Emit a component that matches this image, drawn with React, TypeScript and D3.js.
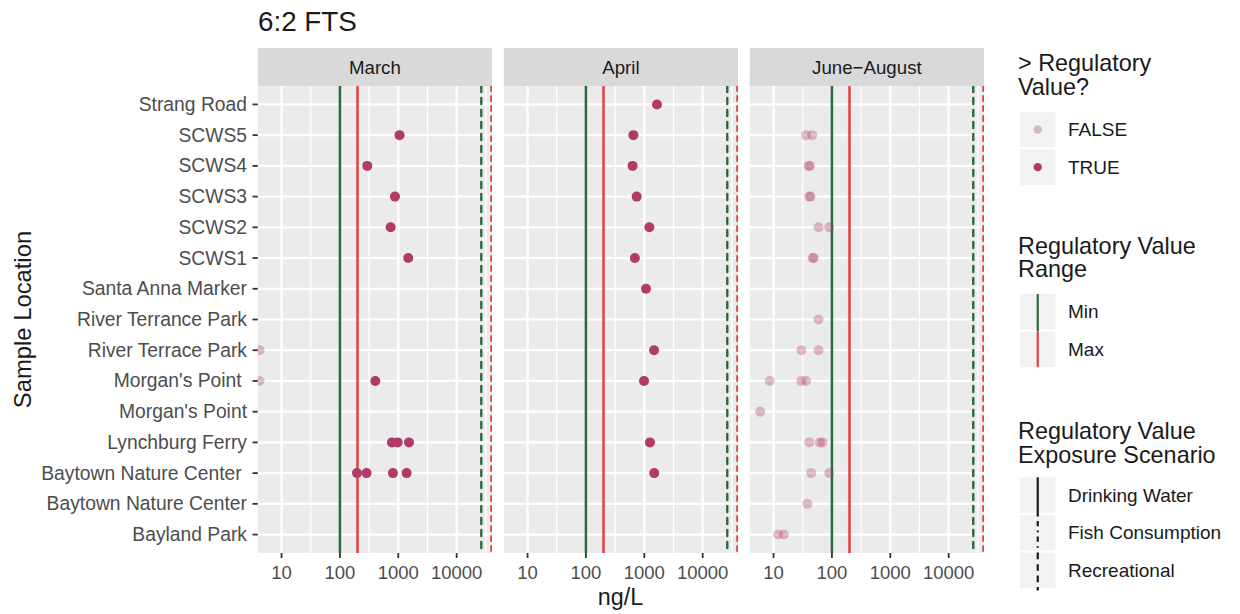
import React from "react";
import * as d3 from "d3";

// ---------- data ----------
const locations = [
  "Strang Road",
  "SCWS5",
  "SCWS4",
  "SCWS3",
  "SCWS2",
  "SCWS1",
  "Santa Anna Marker",
  "River Terrance Park",
  "River Terrace Park",
  "Morgan's Point ",
  "Morgan's Point",
  "Lynchburg Ferry",
  "Baytown Nature Center ",
  "Baytown Nature Center",
  "Bayland Park",
];

const months = ["March", "April", "June\u2212August"];

const marchLocs = [
  "SCWS5", "SCWS4", "SCWS3", "SCWS2", "SCWS1",
  "River Terrace Park", "Morgan's Point ", "Morgan's Point ",
  "Lynchburg Ferry", "Lynchburg Ferry", "Lynchburg Ferry",
  "Baytown Nature Center ", "Baytown Nature Center ", "Baytown Nature Center ", "Baytown Nature Center ",
];
const marchVals = [1050, 294, 877, 740, 1480, 4.2, 4.2, 404, 778, 975, 1524, 196, 286, 810, 1390];

const aprilLocs = [
  "Strang Road", "SCWS5", "SCWS4", "SCWS3", "SCWS2", "SCWS1", "Santa Anna Marker",
  "River Terrace Park", "Morgan's Point ", "Lynchburg Ferry", "Baytown Nature Center ",
];
const aprilVals = [1650, 650, 630, 740, 1220, 690, 1070, 1470, 990, 1250, 1480];

const summerLocs = [
  "SCWS5", "SCWS5", "SCWS4", "SCWS4", "SCWS3", "SCWS3", "SCWS2", "SCWS2", "SCWS1", "SCWS1",
  "River Terrance Park", "River Terrace Park", "River Terrace Park",
  "Morgan's Point ", "Morgan's Point ", "Morgan's Point ", "Morgan's Point",
  "Lynchburg Ferry", "Lynchburg Ferry", "Lynchburg Ferry",
  "Baytown Nature Center ", "Baytown Nature Center ", "Baytown Nature Center",
  "Bayland Park", "Bayland Park",
];
const summerVals = [36, 46, 40, 42, 41, 43, 59, 90, 47, 49, 59, 30, 59, 8.6, 30, 36, 5.9, 41, 62, 69, 44, 90, 38, 12, 15];

const regScenarios = ["Drinking Water", "Recreational"];
const regMinValues = [100, 26400];
const regMaxValues = [200, 39000];

const xTicks = [10, 100, 1000, 10000];
const xMinor = [Math.sqrt(10), Math.sqrt(1000), Math.sqrt(100000), Math.sqrt(10000000), Math.sqrt(1000000000)];

const legendExceed = ["FALSE", "TRUE"];
const legendRange = ["Min", "Max"];
const legendScenario = ["Drinking Water", "Fish Consumption", "Recreational"];

// ---------- styling ----------
const FONT = "'Liberation Sans', Arial, Helvetica, sans-serif";
const GREEN = "#2b6a3e";
const RED = "#e6403f";
const POINT = "#b13a69";
const PANEL_BG = "#ebebeb";
const STRIP_BG = "#d9d9d9";

const W = 1240;
const H = 614;
const panelLeft0 = 257.8;
const panelStep = 246;
const panelW = 234.2;
const panelTop = 86;
const panelBottom = 553;
const stripTop = 48;

const panelData = [
  { locs: marchLocs, vals: marchVals },
  { locs: aprilLocs, vals: aprilVals },
  { locs: summerLocs, vals: summerVals },
];

const dashFor = (scen: string, lw: number) => {
  if (scen === "Recreational") return `${3 * lw} ${2.2 * lw}`;
  if (scen === "Fish Consumption") return `${0.7 * lw} ${2 * lw} ${2.4 * lw} ${2 * lw}`;
  return undefined;
};

export default function App() {
  const y = d3.scalePoint<string>().domain(locations).range([panelTop, panelBottom]).padding(0.6);
  const legendX = 1020;
  const keyW = 35.5;
  const keyStep = 37.7;
  const textX = 1068;
  const titleSize = 23.4;
  const labSize = 19;

  return (
    <svg
      width={W}
      height={H}
      style={{ position: "absolute", left: 0, top: 0, background: "#fff", fontFamily: FONT }}
    >
      <defs>
        {months.map((m, i) => (
          <clipPath id={`clip${i}`} key={m}>
            <rect x={panelLeft0 + i * panelStep} y={panelTop} width={panelW} height={panelBottom - panelTop} />
          </clipPath>
        ))}
      </defs>

      {/* title */}
      <text x={258} y={31} fontSize={27.8} fill="#1a1a1a">6:2 FTS</text>

      {months.map((m, i) => {
        const x0 = panelLeft0 + i * panelStep;
        const x = d3.scaleLog().domain([3.92, 40300]).range([x0, x0 + panelW]);
        const pd = panelData[i];
        return (
          <g key={m}>
            {/* strip */}
            <rect x={x0} y={stripTop} width={panelW} height={panelTop - stripTop} fill={STRIP_BG} />
            <text x={x0 + panelW / 2} y={(stripTop + panelTop) / 2} fontSize={18.7} fill="#1a1a1a"
              textAnchor="middle" dominantBaseline="central">{m}</text>
            {/* panel */}
            <rect x={x0} y={panelTop} width={panelW} height={panelBottom - panelTop} fill={PANEL_BG} />
            <g clipPath={`url(#clip${i})`}>
              {xMinor.map((v) => (
                <line key={"mi" + v} x1={x(v)} x2={x(v)} y1={panelTop} y2={panelBottom} stroke="#fff" strokeWidth={1.3} />
              ))}
              {xTicks.map((v) => (
                <line key={"ma" + v} x1={x(v)} x2={x(v)} y1={panelTop} y2={panelBottom} stroke="#fff" strokeWidth={2.2} />
              ))}
              {locations.map((l) => (
                <line key={"h" + l} x1={x0} x2={x0 + panelW} y1={y(l)} y2={y(l)} stroke="#fff" strokeWidth={2.2} />
              ))}
              {/* regulatory lines */}
              {regScenarios.map((s, k) => (
                <g key={s}>
                  <line x1={x(regMinValues[k])} x2={x(regMinValues[k])} y1={panelTop} y2={panelBottom}
                    stroke={GREEN} strokeWidth={k === 0 ? 2.5 : 2.4}
                    strokeDasharray={k === 0 ? undefined : "6 6"} strokeLinecap={k === 0 ? "butt" : "round"} />
                  <line x1={x(regMaxValues[k])} x2={x(regMaxValues[k])} y1={panelTop} y2={panelBottom}
                    stroke={RED} strokeWidth={k === 0 ? 2.5 : 1.9}
                    strokeDasharray={k === 0 ? undefined : "5 5"} strokeLinecap={k === 0 ? "butt" : "round"} />
                </g>
              ))}
              {/* points */}
              {pd.vals.map((v, j) => {
                const exceed = v > regMinValues[0];
                return (
                  <circle key={j} cx={x(v)} cy={y(pd.locs[j])} r={5}
                    fill={POINT} fillOpacity={exceed ? 1 : 0.33} />
                );
              })}
            </g>
            {/* x axis */}
            {xTicks.map((v) => (
              <g key={"t" + v}>
                <line x1={x(v)} x2={x(v)} y1={panelBottom} y2={panelBottom + 5} stroke="#333" strokeWidth={1.8} />
                <text x={x(v)} y={572} fontSize={18.5} fill="#4d4d4d" textAnchor="middle" dominantBaseline="central">
                  {d3.format("d")(v)}
                </text>
              </g>
            ))}
          </g>
        );
      })}

      {/* y axis */}
      {locations.map((l) => (
        <g key={"y" + l}>
          <line x1={252.5} x2={panelLeft0} y1={y(l)} y2={y(l)} stroke="#333" strokeWidth={1.8} />
          <text x={247} y={y(l)} fontSize={19.3} fill="#4d4d4d" textAnchor="end" dominantBaseline="central"
            style={{ whiteSpace: "pre" }}>{l}</text>
        </g>
      ))}

      {/* axis titles */}
      <text x={620.5} y={597} fontSize={23.3} fill="#1a1a1a" textAnchor="middle" dominantBaseline="central">ng/L</text>
      <text transform={`translate(22,${(panelTop + panelBottom) / 2}) rotate(-90)`} fontSize={23.8} fill="#1a1a1a"
        textAnchor="middle" dominantBaseline="central">Sample Location</text>

      {/* legend 1 */}
      <text x={1018} y={71} fontSize={titleSize} fill="#1a1a1a">
        <tspan x={1018}>&gt; Regulatory</tspan>
        <tspan x={1018} dy={23.6}>Value?</tspan>
      </text>
      {legendExceed.map((lab, k) => {
        const ky = 111.7 + k * keyStep;
        return (
          <g key={lab}>
            <rect x={legendX} y={ky} width={keyW} height={keyW} fill="#f2f2f2" />
            <circle cx={legendX + keyW / 2} cy={ky + keyW / 2} r={4.2} fill={POINT} fillOpacity={lab === "TRUE" ? 1 : 0.33} />
            <text x={textX} y={ky + keyW / 2} fontSize={labSize} fill="#1a1a1a" dominantBaseline="central">{lab}</text>
          </g>
        );
      })}

      {/* legend 2 */}
      <text x={1018} y={253.5} fontSize={titleSize} fill="#1a1a1a">
        <tspan x={1018}>Regulatory Value</tspan>
        <tspan x={1018} dy={23.6}>Range</tspan>
      </text>
      {legendRange.map((lab, k) => {
        const ky = 294 + k * keyStep;
        return (
          <g key={lab}>
            <rect x={legendX} y={ky} width={keyW} height={keyW} fill="#f2f2f2" />
            <line x1={legendX + keyW / 2} x2={legendX + keyW / 2} y1={ky} y2={ky + keyW + (k === 0 ? 2.2 : 0)}
              stroke={k === 0 ? GREEN : RED} strokeWidth={2.2} />
            <text x={textX} y={ky + keyW / 2} fontSize={labSize} fill="#1a1a1a" dominantBaseline="central">{lab}</text>
          </g>
        );
      })}

      {/* legend 3 */}
      <text x={1018} y={439} fontSize={titleSize} fill="#1a1a1a">
        <tspan x={1018}>Regulatory Value</tspan>
        <tspan x={1018} dy={23.6}>Exposure Scenario</tspan>
      </text>
      {legendScenario.map((lab, k) => {
        const ky = 477.3 + k * keyStep;
        return (
          <g key={lab}>
            <rect x={legendX} y={ky} width={keyW} height={keyW} fill="#f2f2f2" />
            <line x1={legendX + keyW / 2} x2={legendX + keyW / 2} y1={ky} y2={ky + keyW + 2.2}
              stroke="#1a1a1a" strokeWidth={2.2} strokeDasharray={dashFor(lab, 2.2)} />
            <text x={textX} y={ky + keyW / 2} fontSize={labSize} fill="#1a1a1a" dominantBaseline="central">{lab}</text>
          </g>
        );
      })}
    </svg>
  );
}
